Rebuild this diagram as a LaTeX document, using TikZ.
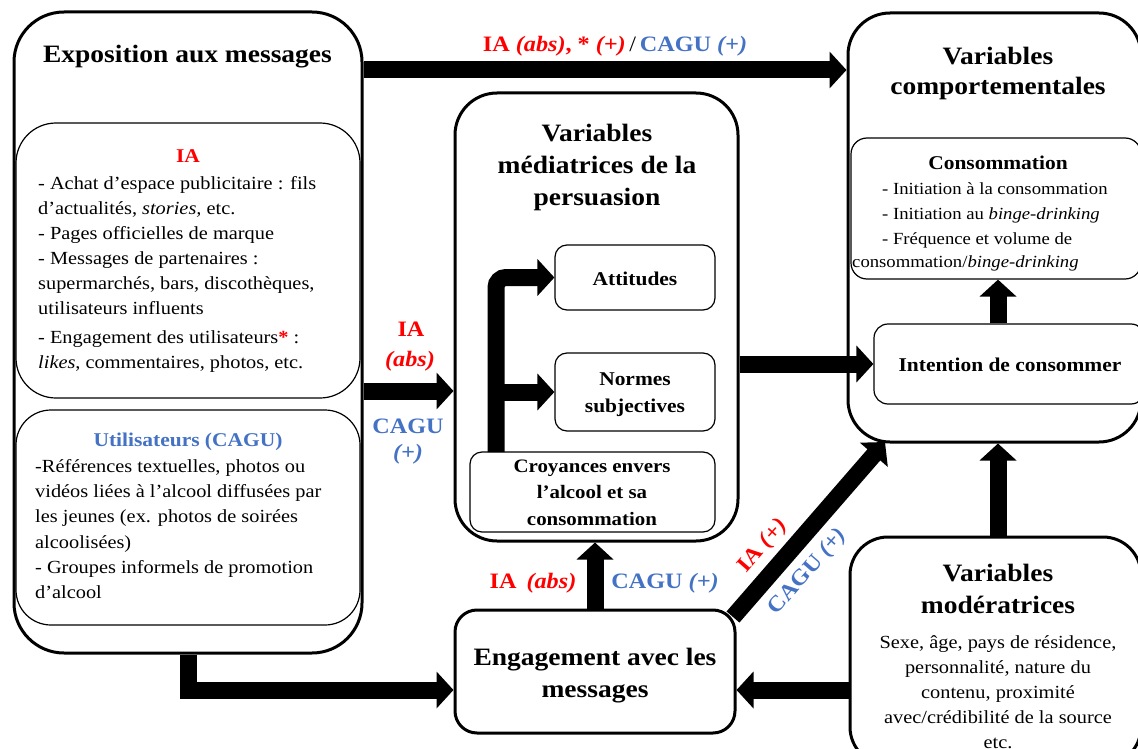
\documentclass[tikz,border=0pt]{standalone}
\usepackage{fontspec}
\setmainfont[FakeStretch=1.1]{Liberation Serif}
\usetikzlibrary{arrows.meta}
\definecolor{iared}{RGB}{255,0,0}
\definecolor{cagublue}{RGB}{68,114,196}
\newcommand\ftitle{\fontsize{25}{32}\selectfont\bfseries}
\newcommand\ftitleb{\fontsize{25}{30}\selectfont\bfseries}
\newcommand\fsubt{\fontsize{19.5}{26}\selectfont\bfseries}
\newcommand\fsubn{\fontsize{19.5}{27}\selectfont\bfseries}
\newcommand\fcroy{\fontsize{19}{26.5}\selectfont\bfseries}
\newcommand\fbody{\fontsize{18.5}{25}\selectfont}
\newcommand\fcagu{\fontsize{18.5}{25.3}\selectfont}
\newcommand\fsmall{\fontsize{17}{25}\selectfont}
\newcommand\flab{\fontsize{22}{28}\selectfont\bfseries}
\tikzset{
  heavybox/.style={draw, line width=3pt, inner sep=0pt, rounded corners=#1},
  lightbox/.style={draw, line width=1.2pt, inner sep=0pt, rounded corners=#1},
  fatarrow/.style={line width=17pt, -{Triangle[length=17pt,width=36pt]}},
  lbl/.style={inner sep=0pt, font=\flab},
  txt/.style={inner sep=0pt},
}
\begin{document}
\begin{tikzpicture}[x=1pt,y=-1pt]
\useasboundingbox (0,0) rectangle (1138,749);
\clip (0,0) rectangle (1138,749);
\fill[white] (0,0) rectangle (1138,749);

% boxes
\node[heavybox=50pt, minimum width=348pt, minimum height=641pt] (expo) at (188,332.5) {};
\node[lightbox=40pt, minimum width=344pt, minimum height=275pt] (iabox) at (188,260.5) {};
\node[lightbox=35pt, minimum width=344pt, minimum height=215pt] (cagubox) at (188,517.5) {};
\node[heavybox=42pt, minimum width=293pt, minimum height=429pt] (comp) at (994.5,227.5) {};
\node[lightbox=16pt, minimum width=290pt, minimum height=141pt] (conso) at (996,208.5) {};
\node[lightbox=14pt, minimum width=271pt, minimum height=80pt] (intent) at (1009.5,364) {};
\node[heavybox=42pt, minimum width=283pt, minimum height=448pt] (med) at (596.5,317) {};
\node[lightbox=12pt, minimum width=160pt, minimum height=65pt] (att) at (635,277.5) {};
\node[lightbox=12pt, minimum width=160pt, minimum height=78pt] (norm) at (635,392) {};
\node[lightbox=12pt, minimum width=245pt, minimum height=80pt] (croy) at (592.5,492) {};
\node[heavybox=22pt, minimum width=280pt, minimum height=123pt] (eng) at (595,671.5) {};
\node[heavybox=38pt, minimum width=291pt, minimum height=228pt] (mod) at (995.5,651) {};

% helper coordinates
\coordinate (ytop) at (0,70);
\coordinate (ymid) at (0,391);
\coordinate (yint) at (0,364);
\coordinate (ylow) at (0,690);
\coordinate (xv) at (998,0);
\coordinate (trunk) at (496,452);
\coordinate (d1) at (733,617);
\coordinate (d2) at (885,442);

% arrows
\draw[fatarrow] (expo.east |- ytop) -- (comp.west |- ytop);
\draw[fatarrow] (expo.east |- ymid) -- (med.west |- ymid);
\draw[fatarrow] (med.east |- yint) -- (intent.west |- yint);
\draw[fatarrow] (intent.north -| xv) -- (conso.south -| xv);
\draw[fatarrow] (mod.north -| xv) -- (comp.south -| xv);
\draw[fatarrow] (mod.west |- ylow) -- (eng.east |- ylow);
\draw[fatarrow] (expo.south) |- (eng.west |- ylow);
\draw[fatarrow] (eng.north) -- (eng.north |- med.south);
\draw[fatarrow, rounded corners=10pt] (trunk) |- (att.west);
\draw[fatarrow] (trunk |- norm.west) -- (norm.west);
\draw[fatarrow] (d1) -- (d2);

% texts left
\node[txt, anchor=north, font=\ftitle] (expoT) at (187.5,45) {Exposition aux messages};
\node[txt, anchor=north, font=\fsubt, text=iared] (iaT) at (188,149) {IA};
\node[txt, anchor=north west, align=left, font=\fbody] (iaB) at (38,176) {- Achat d’espace publicitaire : fils\\d’actualités, \textit{stories,} etc.\\- Pages officielles de marque\\- Messages de partenaires :\\supermarchés, bars, discothèques,\\utilisateurs influents\\[4pt]- Engagement des utilisateurs{\color{iared}\bfseries*} :\\\textit{likes}, commentaires, photos, etc.};
\node[txt, anchor=north, font=\fsubt, text=cagublue] (caguT) at (188,433) {Utilisateurs (CAGU)};
\node[txt, anchor=north west, align=left, font=\fcagu] (caguB) at (35,459) {-Références textuelles, photos ou\\vidéos liées à l’alcool diffusées par\\les jeunes (ex. photos de soirées\\alcoolisées)\\- Groupes informels de promotion\\d’alcool};

% texts right
\node[txt, anchor=north, align=center, font=\ftitleb] (compT) at (998,46.5) {Variables\\comportementales};
\node[txt, anchor=north, font=\fsubt] (consoT) at (998,156) {Consommation};
\node[txt, anchor=north west, align=left, font=\fsmall] (consoB) at (882,182) {- Initiation à la consommation\\- Initiation au \textit{binge-drinking}\\- Fréquence et volume de};
\node[txt, anchor=north west, font=\fsmall] (consoL) at (852,256) {consommation/\textit{binge-drinking}};
\node[txt, font=\fsubt] (intentT) at (1010,365) {Intention de consommer};

% texts centre
\node[txt, anchor=north, align=center, font=\ftitle] (medT) at (597,123.5) {Variables\\médiatrices de la\\persuasion};
\node[txt, font=\fsubt] (attT) at (635,279) {Attitudes};
\node[txt, anchor=north, align=center, font=\fsubn] (normT) at (635,373) {Normes\\subjectives};
\node[txt, anchor=north, align=center, font=\fcroy] (croyT) at (592,459.5) {Croyances envers\\l’alcool et sa\\consommation};
\node[txt, anchor=north, align=center, font=\ftitle] (engT) at (595,647.5) {Engagement avec les\\messages};
\node[txt, anchor=north, align=center, font=\ftitle] (modT) at (998,563.5) {Variables\\modératrices};
\node[txt, anchor=north, align=center, font=\fbody] (modB) at (998,635.7) {Sexe, âge, pays de résidence,\\personnalité, nature du\\contenu, proximité\\avec/crédibilité de la source\\etc.};

% labels
\node[lbl, anchor=base] (lTop) at (615,52) {{\color{iared}IA \textit{(abs)}, * \textit{(+)}}\,{\mdseries /}\,{\color{cagublue}CAGU \textit{(+)}}};
\node[lbl, anchor=base, text=iared] (lIA1) at (411,336) {IA};
\node[lbl, anchor=base, text=iared] (lIA2) at (410,366) {\textit{(abs)}};
\node[lbl, anchor=base, text=cagublue] (lCA1) at (408,433) {CAGU};
\node[lbl, anchor=base, text=cagublue] (lCA2) at (408,459) {\textit{(+)}};
\node[lbl, anchor=base, text=iared] (lIA3) at (533,588) {IA\hspace{10pt}\textit{(abs)}};
\node[lbl, anchor=base, text=cagublue] (lCA3) at (665,588) {CAGU \textit{(+)}};
\node[lbl, rotate=49, text=iared] (lIA4) at (763,546) {IA \textit{(+)}};
\node[lbl, rotate=49, text=cagublue] (lCA4) at (808,572) {CAGU \textit{(+)}};
\end{tikzpicture}
\end{document}
